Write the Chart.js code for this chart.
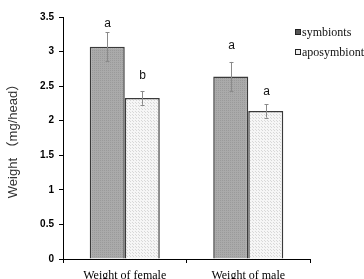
<!DOCTYPE html>
<html><head><meta charset="utf-8">
<script src="https://cdn.jsdelivr.net/npm/chart.js@4.4.1/dist/chart.umd.min.js"></script>
<style>html,body{margin:0;padding:0;background:#fff}#wrap{width:364px;height:279px}</style>
</head><body><div id="wrap"><canvas id="c" width="364" height="279"></canvas></div>
<script>
const categories = ['Weight of female', 'Weight of male'];
const seriesNames = ['symbionts', 'aposymbionts'];
const symbionts = [3.07, 2.64];
const aposymbionts = [2.33, 2.14];
const symbiontsErr = [0.21, 0.21];
const aposymbiontsErr = [0.10, 0.095];
const symbiontsLetters = ['a', 'a'];
const aposymbiontsLetters = ['b', 'a'];
const yTickValues = [0, 0.5, 1, 1.5, 2, 2.5, 3, 3.5];

function makePattern(bg, dot, step) {
  const p = document.createElement('canvas');
  p.width = step; p.height = step;
  const g = p.getContext('2d');
  g.fillStyle = bg; g.fillRect(0, 0, step, step);
  g.fillStyle = dot; g.fillRect(0, 0, 1, 1);
  if (step > 2) g.fillRect(Math.floor(step/2), Math.floor(step/2), 1, 1);
  return g.createPattern(p, 'repeat');
}
const ctx = document.getElementById('c').getContext('2d');
const symFill = makePattern('#aaaaaa', '#9a9a9a', 2);
const apoFill = makePattern('#f6f6f6', '#d8d8d8', 3);

const errLetterPlugin = {
  id: 'errLetters',
  afterDatasetsDraw(chart) {
    const c = chart.ctx, y = chart.scales.y;
    const errs = [symbiontsErr, aposymbiontsErr];
    const letters = [symbiontsLetters, aposymbiontsLetters];
    const gaps = [[5, 13], [12, 9]];
    chart.data.datasets.forEach((ds, di) => {
      const meta = chart.getDatasetMeta(di);
      meta.data.forEach((bar, i) => {
        const v = ds.data[i], e = errs[di][i];
        const x = Math.round(bar.x) + 0.5;
        const yt = y.getPixelForValue(v + e), yb = y.getPixelForValue(v - e);
        c.save();
        c.strokeStyle = '#8a8a8a'; c.lineWidth = 1;
        c.beginPath();
        c.moveTo(x, yt); c.lineTo(x, yb);
        c.moveTo(x - 2, Math.round(yt) + 0.5); c.lineTo(x + 2, Math.round(yt) + 0.5);
        c.moveTo(x - 2, Math.round(yb) + 0.5); c.lineTo(x + 2, Math.round(yb) + 0.5);
        c.stroke();
        c.fillStyle = '#111';
        c.font = '12px "Liberation Sans", Arial, sans-serif';
        c.textAlign = 'center'; c.textBaseline = 'alphabetic';
        c.fillText(letters[di][i], x, yt - gaps[di][i]);
        c.restore();
      });
    });
    const fills = ['#555', '#eee'];
    c.save();
    c.font = '12px "Liberation Serif", "Times New Roman", serif';
    c.textBaseline = 'middle'; c.textAlign = 'left';
    seriesNames.forEach((n, i) => {
      const ly = 32 + i * 20;
      c.fillStyle = fills[i];
      c.fillRect(295.5, ly - 2.5, 5, 5);
      c.strokeStyle = '#222'; c.lineWidth = 1;
      c.strokeRect(295.5, ly - 2.5, 5, 5);
      c.fillStyle = '#111';
      c.fillText(n, 302, ly + 0.5);
    });
    c.restore();
  }
};

new Chart(ctx, {
  type: 'bar',
  plugins: [errLetterPlugin],
  data: {
    labels: categories,
    datasets: [
      { label: seriesNames[0], data: symbionts, backgroundColor: symFill, borderColor: '#3a3a3a', borderWidth: 1.5 },
      { label: seriesNames[1], data: aposymbionts, backgroundColor: apoFill, borderColor: '#3a3a3a', borderWidth: 1.5 }
    ]
  },
  options: {
    responsive: false, animation: false,
    layout: { padding: { left: 5, top: 17, right: 54, bottom: 0 } },
    plugins: { legend: { display: false }, tooltip: { enabled: false } },
    datasets: { bar: { categoryPercentage: 0.567, barPercentage: 1.0 } },
    scales: {
      x: {
        grid: { drawOnChartArea: false, tickLength: 4, color: '#000', offset: true },
        border: { color: '#000', width: 1 },
        ticks: { color: '#000', padding: 6, font: { family: '"Liberation Serif", "Times New Roman", serif', size: 12 } },
        afterFit(s) { s.height = 20; }
      },
      y: {
        min: 0, max: 3.5,
        afterBuildTicks(s) { s.ticks = yTickValues.map(v => ({ value: v })); },
        grid: { drawOnChartArea: false, tickLength: 4, color: '#000' },
        border: { color: '#000', width: 1 },
        ticks: { color: '#000', padding: 5, callback: v => String(v),
                 font: { family: '"Liberation Sans", Arial, sans-serif', size: 10, weight: 'bold' } },
        title: { display: true, text: 'Weight （mg/head）', color: '#333', padding: { top: 1, bottom: 0 },
                 font: { family: '"Liberation Sans", "Noto Sans CJK SC", sans-serif', size: 13 } },
        afterFit(s) { s.width = 58; }
      }
    }
  }
});
</script></body></html>
